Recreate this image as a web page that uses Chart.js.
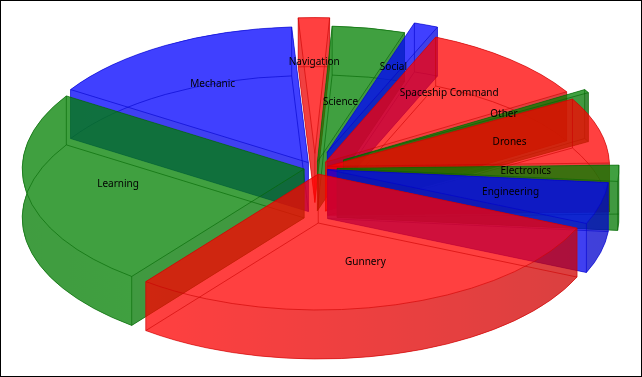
<!DOCTYPE html>
<html>
<head>
<meta charset="utf-8">
<style>
html,body{margin:0;padding:0;background:#fff;overflow:hidden}
#frame{width:640px;height:375px;border:1px solid #000;position:relative}
canvas{display:block}
</style>
<script src="https://cdn.jsdelivr.net/npm/chart.js@4"></script>
</head>
<body>
<div id="frame"><canvas id="c" width="640" height="375"></canvas></div>
<script>
const categories = ["Navigation","Science","Social","Spaceship Command","Other","Drones","Electronics","Engineering","Gunnery","Learning","Mechanic"];
const sliceValues = [6.4,15,5,35.8,1.5,28.3,6.9,17.9,104.3,84.8,54.1];
const sliceExplode = [15,6.5,17.5,8,16.5,6.5,11,6.5,6.5,5.5,6.5];
const sliceColors = ["#ff0000","#008000","#0000ff","#ff0000","#008000","#ff0000","#008000","#0000ff","#ff0000","#008000","#0000ff"];
const labelReach = [0.67,0.45,0.67,0.67,0.66,0.67,0.67,0.67,0.67,0.67,0.67];

const ZOOM = 2, TILT = 0.482, DEPTH = 49, CENTER_X = 314, CENTER_Y = 167, ALPHA = 0.75, LINE_ALPHA = 0.6;

function shade(hex, f){
  const n = parseInt(hex.slice(1),16);
  const ch = s => Math.round(((n>>s)&255)*f);
  return `rgb(${ch(16)},${ch(8)},${ch(0)})`;
}

const pie3d = {
  id:'pie3d',
  beforeDatasetsDraw(chart){
    const ctx = chart.ctx;
    const meta = chart.getDatasetMeta(0);
    const w = chart.width, h = chart.height;
    const items = meta.data.map((arc,i)=>{
      const a1 = arc.startAngle, a2 = arc.endAngle, mid = (a1+a2)/2;
      const off = arc.options.offset*ZOOM;
      const rx = arc.outerRadius*ZOOM, ry = rx*TILT;
      const x = CENTER_X + Math.cos(mid)*off;
      const y = CENTER_Y + Math.sin(mid)*off*TILT;
      return {i,a1,a2,mid,rx,ry,x,y};
    });
    const order = items.slice().sort((p,q)=>Math.sin(p.mid) - Math.sin(q.mid));
    const layer = document.createElement('canvas');
    layer.width = w; layer.height = h;
    const g = layer.getContext('2d');
    for(const s of order){
      const col = sliceColors[s.i];
      const {a1,a2,rx,ry,x,y} = s;
      g.clearRect(0,0,w,h);
      const px = a => x+rx*Math.cos(a), py = a => y+ry*Math.sin(a);
      const face = (c,dy) => { c.beginPath(); c.moveTo(x,y+dy); c.ellipse(x,y+dy,rx,ry,0,a1,a2); c.closePath(); };
      g.fillStyle = col; face(g,DEPTH); g.fill();
      g.fillStyle = shade(col,0.93);
      for(const a of [a1,a2]){
        g.beginPath(); g.moveTo(x,y); g.lineTo(px(a),py(a)); g.lineTo(px(a),py(a)+DEPTH); g.lineTo(x,y+DEPTH); g.closePath(); g.fill();
      }
      const grad = g.createLinearGradient(x-rx,0,x+rx,0);
      grad.addColorStop(0,shade(col,0.96));
      grad.addColorStop(0.2,shade(col,1));
      grad.addColorStop(1,shade(col,0.8));
      g.fillStyle = grad;
      g.beginPath(); g.ellipse(x,y,rx,ry,0,a1,a2); g.ellipse(x,y+DEPTH,rx,ry,0,a2,a1,true); g.closePath(); g.fill();
      g.fillStyle = col; face(g,0); g.fill();
      ctx.save();
      ctx.globalAlpha = ALPHA;
      ctx.drawImage(layer,0,0);
      ctx.globalAlpha = LINE_ALPHA;
      ctx.strokeStyle = shade(col,0.8); ctx.lineWidth = 1;
      face(ctx,0); ctx.stroke();
      face(ctx,DEPTH); ctx.stroke();
      ctx.beginPath();
      ctx.moveTo(x,y); ctx.lineTo(x,y+DEPTH);
      ctx.moveTo(px(a1),py(a1)); ctx.lineTo(px(a1),py(a1)+DEPTH);
      ctx.moveTo(px(a2),py(a2)); ctx.lineTo(px(a2),py(a2)+DEPTH);
      ctx.stroke();
      ctx.restore();
    }
    ctx.save();
    ctx.fillStyle = '#000';
    ctx.font = '10px "Noto Sans"';
    ctx.textAlign = 'center';
    ctx.textBaseline = 'middle';
    for(const s of items){
      const f = labelReach[s.i];
      ctx.fillText(categories[s.i], s.x+Math.cos(s.mid)*s.rx*f, s.y+Math.sin(s.mid)*s.ry*f);
    }
    ctx.restore();
    return false;
  }
};

new Chart(document.getElementById('c'),{
  type:'pie',
  data:{labels:categories,datasets:[{data:sliceValues,backgroundColor:sliceColors,offset:sliceExplode,borderWidth:0}]},
  options:{
    responsive:false,animation:false,radius:141,rotation:-3.4,
    layout:{padding:0},
    plugins:{legend:{display:false},tooltip:{enabled:false},title:{display:false}}
  },
  plugins:[pie3d]
});
</script>
</body>
</html>
